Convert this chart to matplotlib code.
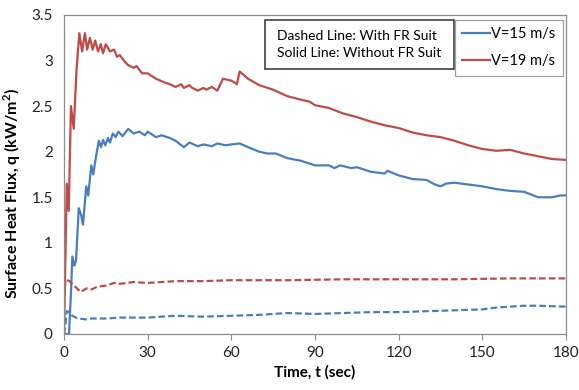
import matplotlib.pyplot as plt
from matplotlib.lines import Line2D
from matplotlib.patches import Rectangle

# Surface heat flux (kW/m^2) vs time (sec)
t_red = [0, 1, 1.7, 2.5, 3.5, 4.5, 5.5, 6.5, 7.5, 8.3, 9.3, 10.3, 11.2, 12.2, 13.2, 14,
         15, 16.5, 18, 19, 20, 22, 23, 25, 26, 28, 30, 33, 36, 38, 40, 42, 43, 45, 46, 48,
         50, 51, 53, 55, 57, 60, 62, 63, 66, 70, 75, 80, 85, 88, 90, 95, 100, 105, 110,
         115, 120, 125, 130, 135, 140, 145, 150, 155, 160, 165, 170, 175, 180]
q_red = [0.0, 1.65, 1.35, 2.5, 2.25, 2.9, 3.3, 3.1, 3.3, 3.12, 3.25, 3.12, 3.22, 3.1, 3.18,
         3.08, 3.18, 3.1, 3.12, 3.04, 3.06, 2.98, 2.95, 2.92, 2.94, 2.86, 2.86, 2.8, 2.76,
         2.74, 2.71, 2.74, 2.7, 2.73, 2.7, 2.67, 2.7, 2.68, 2.71, 2.67, 2.8, 2.78, 2.74, 2.88,
         2.8, 2.73, 2.68, 2.61, 2.57, 2.55, 2.51, 2.48, 2.42, 2.38, 2.33, 2.29, 2.26, 2.21,
         2.18, 2.16, 2.12, 2.07, 2.03, 2.01, 2.02, 1.98, 1.95, 1.92, 1.91]

t_blue = [0, 1.8, 2.5, 3, 3.7, 4.3, 5.3, 6.2, 6.8, 8, 8.7, 9.8, 10.5, 11.5, 12.5, 13.3, 14,
          14.8, 15.8, 16.5, 17.5, 18.5, 19.5, 21, 23, 25, 27, 29, 30, 33, 35, 38, 40, 43,
          45, 48, 50, 53, 55, 58, 60, 63, 66, 70, 73, 76, 80, 85, 90, 95, 97, 99, 103, 105,
          110, 115, 116, 120, 125, 130, 133, 135, 137, 140, 145, 150, 155, 160, 165, 170,
          175, 178, 180]
q_blue = [0.0, 0.0, 0.45, 0.85, 0.75, 0.8, 1.38, 1.3, 1.2, 1.62, 1.52, 1.85, 1.75, 1.95,
          2.12, 2.05, 2.13, 2.07, 2.15, 2.1, 2.2, 2.16, 2.22, 2.17, 2.25, 2.2, 2.22, 2.18,
          2.22, 2.16, 2.18, 2.15, 2.12, 2.05, 2.1, 2.06, 2.08, 2.06, 2.09, 2.07, 2.08, 2.09,
          2.05, 2.0, 1.98, 1.98, 1.93, 1.9, 1.85, 1.85, 1.82, 1.85, 1.82, 1.83, 1.78, 1.76,
          1.79, 1.74, 1.7, 1.69, 1.64, 1.62, 1.65, 1.66, 1.64, 1.62, 1.59, 1.57, 1.56, 1.5,
          1.5, 1.52, 1.52]

t_red_fr = [0, 0.5, 2, 4, 6, 8, 10, 12, 15, 18, 20, 25, 30, 40, 50, 60, 80, 100, 120,
            140, 160, 180]
q_red_fr = [0.3, 0.6, 0.58, 0.52, 0.46, 0.5, 0.49, 0.52, 0.53, 0.56, 0.55, 0.57, 0.56,
            0.58, 0.58, 0.59, 0.59, 0.6, 0.6, 0.6, 0.61, 0.61]

t_blue_fr = [0, 0.5, 1, 2, 3, 5, 8, 10, 15, 20, 30, 40, 50, 60, 70, 80, 90, 100, 110, 120,
             130, 140, 150, 155, 165, 170, 180]
q_blue_fr = [0.0, 0.1, 0.25, 0.24, 0.2, 0.17, 0.16, 0.17, 0.17, 0.18, 0.18, 0.2, 0.19, 0.2,
             0.21, 0.23, 0.22, 0.23, 0.24, 0.24, 0.25, 0.26, 0.27, 0.29, 0.31, 0.31, 0.3]

blue = '#4A7EBB'
red = '#BE4B48'
dash = (0, (3, 1.4))

plt.rcParams['font.family'] = ['Lato', 'DejaVu Sans']

fig = plt.figure(figsize=(5.79, 3.9), dpi=100)
ax = fig.add_axes([0.1105, 0.1436, 0.867, 0.818])

ax.plot(t_blue, q_blue, color=blue, lw=1.6)
ax.plot(t_red, q_red, color=red, lw=1.6)
ax.plot(t_blue_fr, q_blue_fr, color=blue, lw=1.6, linestyle=dash)
ax.plot(t_red_fr, q_red_fr, color=red, lw=1.6, linestyle=dash)

ax.set_xlim(0, 180)
ax.set_ylim(0, 3.5)
ax.set_xticks(range(0, 181, 30))
ax.set_yticks([0, 0.5, 1, 1.5, 2, 2.5, 3, 3.5])
ax.set_yticklabels(['0', '0.5', '1', '1.5', '2', '2.5', '3', '3.5'])

for s in ax.spines.values():
    s.set_color('#8C8C8C')
    s.set_linewidth(0.9)
ax.tick_params(axis='x', direction='out', length=4, color='#8C8C8C', labelsize=11,
               pad=5, labelcolor='#222222')
ax.tick_params(axis='y', length=0, labelsize=11, pad=8, labelcolor='#222222')

ax.set_xlabel('Time, t (sec)', fontsize=11, fontweight='bold', labelpad=3)
ax.set_ylabel('Surface Heat Flux, q (kW/m$^\\mathregular{2}$)', fontsize=11.5,
              fontweight='bold')
ax.yaxis.set_label_coords(-0.082, 0.44)

handles = [Line2D([], [], color=blue, lw=1.6), Line2D([], [], color=red, lw=1.6)]
leg = ax.legend(handles, ['V=15 m/s', 'V=19 m/s'], loc='upper right',
                bbox_to_anchor=(0.994, 0.984), fontsize=10.5, handlelength=1.9,
                handletextpad=0.12, borderpad=0.5, labelspacing=0.9, fancybox=False,
                framealpha=1, borderaxespad=0)
leg.get_frame().set_edgecolor('#A0A0A0')
leg.get_frame().set_linewidth(0.9)

# note box
ax.add_patch(Rectangle((0.4004, 0.8307), 0.3765, 0.1533, transform=ax.transAxes,
                       facecolor='white', edgecolor='#303030', linewidth=1.1, zorder=4))
ax.text(0.424, 0.908, 'Dashed Line: With FR Suit\nSolid Line: Without FR Suit',
        transform=ax.transAxes, fontsize=10, va='center', ha='left', linespacing=1.45,
        zorder=5)

fig.savefig('out.png', dpi=100)
